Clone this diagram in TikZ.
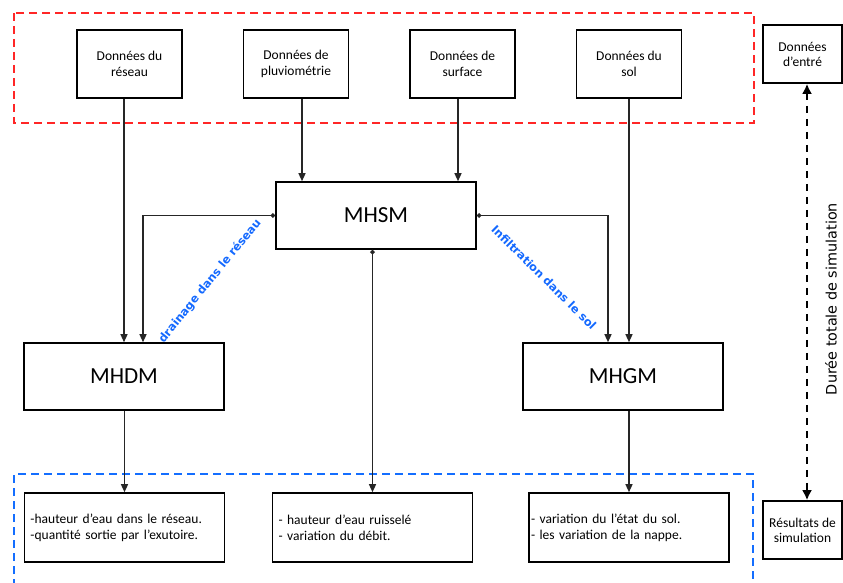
\documentclass[tikz,border=0pt]{standalone}
\usepackage{fontspec}
\setmainfont{Carlito}
\newfontfamily\labfont{DejaVu Sans}
\usetikzlibrary{arrows.meta}
\definecolor{dashred}{RGB}{255,38,38}
\definecolor{dashblue}{RGB}{20,110,255}
\definecolor{lblblue}{RGB}{20,105,255}
\begin{document}
\begin{tikzpicture}[x=1pt, y=1pt,
    databox/.style={draw, line width=1.6pt, minimum width=105pt, minimum height=68pt,
      inner sep=2pt, align=center, font=\fontsize{13.5}{15.5}\selectfont},
    model/.style={draw, line width=1.6pt, minimum width=200pt, minimum height=67pt,
      font=\fontsize{23}{26}\selectfont},
    resbox/.style={draw, line width=1.6pt, minimum height=69pt, text width=188pt,
      inner xsep=6pt, align=left, font=\fontsize{13.5}{16}\selectfont},
    sidebox/.style={draw, line width=1.6pt, minimum width=79pt, minimum height=58pt,
      inner sep=1pt, align=center, font=\fontsize{13.5}{15}\selectfont},
    link/.style={line width=1.3pt, draw=black!85, -{Triangle[length=8pt, width=7pt]}},
    tap/.style={link, {Circle[length=4.5pt]}-{Triangle[length=8pt, width=7pt]}},
    frame/.style={line width=2.9pt, dash pattern=on 8pt off 5pt},
    flow/.style={inner sep=1pt, text=lblblue, font=\labfont\bfseries\fontsize{11.4}{13}\selectfont}]
  \useasboundingbox (0,0) rectangle (843,-583);
  % entrees
  \draw[frame, dashred] (14,-13) rectangle (754,-123);
  \node[databox] (reseau) at (129.5,-64) {Données du\\réseau};
  \node[databox] (pluvio) at (296,-64) {Données de\\pluviométrie};
  \node[databox] (surface) at (462.5,-64) {Données de\\surface};
  \node[databox] (sol) at (629,-64) {Données du\\sol};
  % modeles
  \node[model] (mhsm) at (376,-215.5) {MHSM};
  \node[model] (mhdm) at (124,-376.5) {MHDM};
  \node[model] (mhgm) at (623,-376.5) {MHGM};
  % sorties
  \draw[frame, dashblue] (14,-600) -- (14,-474) -- (753,-474) -- (753,-600);
  \node[resbox] (res1) at (124.5,-527.5) {-hauteur d'eau dans le réseau.\\-quantité sortie par l'exutoire.};
  \node[resbox] (res2) at (372.5,-527.5) {- hauteur d'eau ruisselé\\- variation du débit.};
  \node[resbox, text width=196pt, inner xsep=2pt] (res3) at (629,-527.5) {- variation du l'état du sol.\\- les variation de la nappe.};
  \node[sidebox] (entre) at (802.5,-54) {Données\\d'entré};
  \node[sidebox] (sortie) at (802.5,-530) {Résultats de\\simulation};
  % liens
  \coordinate (p1) at ([xshift=-74pt]mhsm.north);
  \coordinate (p2) at ([xshift=82pt]mhsm.north);
  \draw[link] (reseau.south -| mhdm.north) -- (mhdm.north);
  \draw[link] (pluvio.south -| p1) -- (p1);
  \draw[link] (surface.south -| p2) -- (p2);
  \draw[link] (sol.south) -- (sol.south |- mhgm.north);
  \draw[tap] (mhsm.west) -| ([xshift=19pt]mhdm.north);
  \draw[tap] (mhsm.east) -| ([xshift=-15pt]mhgm.north);
  \draw[tap] (mhsm.south -| res2.north) -- (res2.north);
  \draw[link] (mhdm.south -| res1.north) -- (res1.north);
  \draw[link] (mhgm.south -| res3.north) -- (res3.north);
  \node[flow, rotate=51] (drain) at (210,-281) {drainage dans le réseau};
  \node[flow, rotate=-44.7] (infil) at (544,-277.5) {Infiltration dans le sol};
  % duree
  \draw[line width=2.8pt, dash pattern=on 7pt off 6pt,
    {Latex[length=10pt, width=10pt]}-{Latex[length=10pt, width=10pt]}]
    ([xshift=4.5pt]entre.south) -- ([xshift=4.5pt]sortie.north);
  \node[rotate=90, font=\labfont\fontsize{14.4}{16}\selectfont] (duree) at (831,-299) {Durée totale de simulation};
\end{tikzpicture}
\end{document}
